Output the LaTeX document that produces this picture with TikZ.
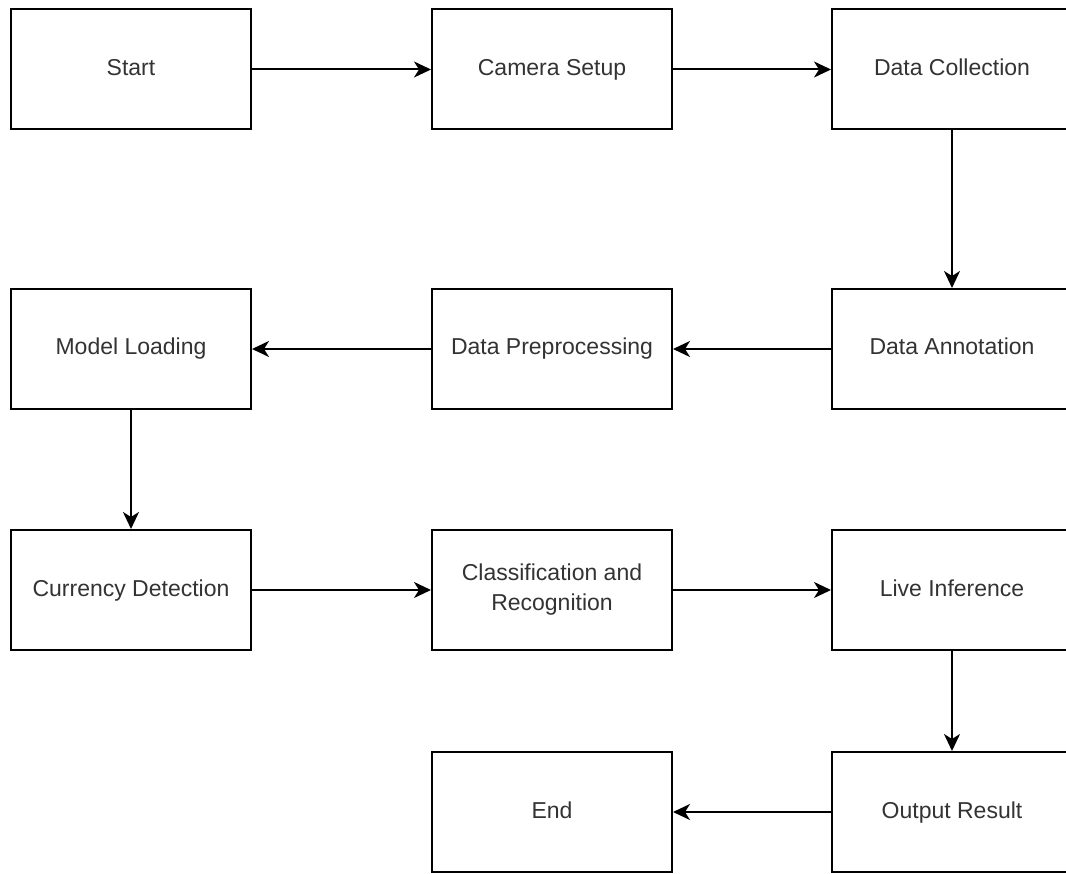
\documentclass[tikz,border=0pt]{standalone}
\usepackage{fontspec}
\setmainfont{Liberation Sans}
\usetikzlibrary{arrows.meta}
\begin{document}
\begin{tikzpicture}[x=1pt,y=-1pt,
  box/.style={draw=black,line width=2pt,fill=white,minimum width=240pt,minimum height=120pt,inner sep=0pt,align=center,font=\fontsize{23}{30}\selectfont,text=black!80,text height=17pt,text depth=5pt},
  twoline/.style={text height=,text depth=},
  conn/.style={line width=2pt,-{Stealth[length=17pt,width=16pt,inset=5pt]}}]
\useasboundingbox (0,0) rectangle (1066,874);
\fill[white] (0,0) rectangle (1066,874);
\node[box] (start) at (131,69.5) {Start};
\node[box] (cam) at (552,69.5) {Camera Setup};
\node[box] (coll) at (952,69.5) {Data Collection};
\node[box] (model) at (131,349) {Model Loading};
\node[box] (prep) at (552,349) {Data Preprocessing};
\node[box] (annot) at (952,349) {Data Annotation};
\node[box] (det) at (131,590) {Currency Detection};
\node[box,twoline] (cls) at (552,590) {Classification and\\Recognition};
\node[box] (live) at (952,590) {Live Inference};
\node[box] (endn) at (552,812) {End};
\node[box] (out) at (952,812) {Output Result};
\draw[conn] (start) -- (cam);
\draw[conn] (cam) -- (coll);
\draw[conn] (coll) -- (annot);
\draw[conn] (annot) -- (prep);
\draw[conn] (prep) -- (model);
\draw[conn] (model) -- (det);
\draw[conn] (det) -- (cls);
\draw[conn] (cls) -- (live);
\draw[conn] (live) -- (out);
\draw[conn] (out) -- (endn);
\end{tikzpicture}
\end{document}
